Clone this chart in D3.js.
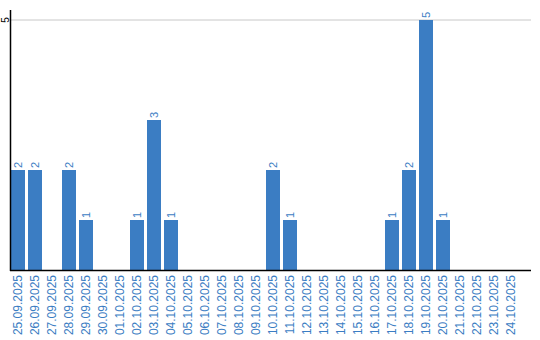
<!DOCTYPE html>
<html>
<head>
<meta charset="utf-8">
<script src="https://cdn.jsdelivr.net/npm/d3@7"></script>
<style>
  body { margin: 0; background: #fff; }
  svg { display: block; font-family: Arial, "Liberation Sans", sans-serif; }
</style>
</head>
<body>
<svg id="chart" width="540" height="340"></svg>
<script>
// dates on the x axis
const dates = [
  '25.09.2025', '26.09.2025', '27.09.2025', '28.09.2025', '29.09.2025', '30.09.2025',
  '01.10.2025', '02.10.2025', '03.10.2025', '04.10.2025', '05.10.2025', '06.10.2025',
  '07.10.2025', '08.10.2025', '09.10.2025', '10.10.2025', '11.10.2025', '12.10.2025',
  '13.10.2025', '14.10.2025', '15.10.2025', '16.10.2025', '17.10.2025', '18.10.2025',
  '19.10.2025', '20.10.2025', '21.10.2025', '22.10.2025', '23.10.2025', '24.10.2025'
];
// count per day
const counts = [2, 2, 0, 2, 1, 0, 0, 1, 3, 1, 0, 0, 0, 0, 0, 2, 1, 0, 0, 0, 0, 0, 1, 2, 5, 1, 0, 0, 0, 0];
const yTicks = [5];

const blue = '#3b7dc3';
const svg = d3.select('#chart');

// pair each date with its count, keep only the days that have a bar
const data = dates.map((date, i) => ({ date, value: counts[i] }))
  .filter(d => d.value > 0);

const x = d3.scaleBand()
  .domain(dates)
  .range([9.5, 519.5])
  .paddingInner(3 / 17)
  .paddingOuter(1.5 / 17);

const y = d3.scaleLinear()
  .domain([0, 5])
  .range([270, 20]);

// grid line at the top tick
svg.append('g')
  .selectAll('line')
  .data(yTicks)
  .enter()
  .append('line')
  .attr('x1', 11)
  .attr('x2', 531)
  .attr('y1', d => y(d))
  .attr('y2', d => y(d))
  .attr('stroke', '#c8c8c8')
  .attr('stroke-width', 1);

// bars
svg.append('g')
  .selectAll('rect')
  .data(data)
  .enter()
  .append('rect')
  .attr('x', d => x(d.date))
  .attr('y', d => y(d.value))
  .attr('width', x.bandwidth())
  .attr('height', d => y(0) - y(d.value))
  .attr('fill', blue);

// value labels above bars
svg.append('g')
  .selectAll('text')
  .data(data)
  .enter()
  .append('text')
  .attr('transform', d => `translate(${x(d.date) + x.bandwidth() / 2},${y(d.value) - 2}) rotate(-90)`)
  .attr('dy', '0.35em')
  .attr('text-anchor', 'start')
  .attr('fill', blue)
  .attr('font-size', 11)
  .text(d => d.value);

// x axis labels
svg.append('g')
  .selectAll('text')
  .data(dates)
  .enter()
  .append('text')
  .attr('transform', d => `translate(${x(d) + x.bandwidth() / 2},275) rotate(-90)`)
  .attr('dy', '0.35em')
  .attr('text-anchor', 'end')
  .attr('fill', blue)
  .attr('font-size', 12)
  .text(d => d);

// y tick label
svg.append('g')
  .selectAll('text')
  .data(yTicks)
  .enter()
  .append('text')
  .attr('transform', d => `translate(5,${y(d)}) rotate(-90)`)
  .attr('dy', '0.35em')
  .attr('text-anchor', 'middle')
  .attr('fill', '#000')
  .attr('font-size', 10)
  .text(d => d);

// axis lines
svg.append('line')
  .attr('x1', 10.5).attr('x2', 10.5)
  .attr('y1', 10).attr('y2', 271)
  .attr('stroke', '#000').attr('stroke-width', 1.5);
svg.append('line')
  .attr('x1', 10).attr('x2', 531)
  .attr('y1', 270.5).attr('y2', 270.5)
  .attr('stroke', '#000').attr('stroke-width', 1.5);
</script>
</body>
</html>
